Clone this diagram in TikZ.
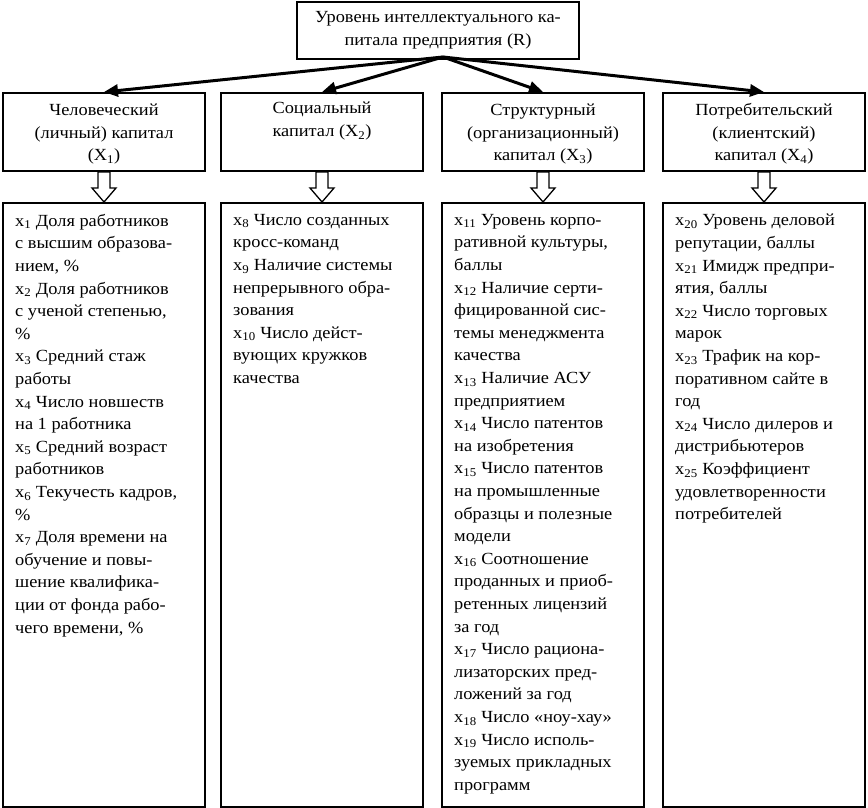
\documentclass[tikz,border=0pt]{standalone}
\usepackage{fontspec}
\setmainfont[FakeStretch=1.08]{Liberation Serif}
\usetikzlibrary{arrows.meta,positioning}

\newcommand{\ix}[1]{x\textsubscript{#1}}

\begin{document}
\begin{tikzpicture}[
  x=1pt, y=-1pt,
  font=\fontsize{17}{22.6}\selectfont,
  node distance=30pt,
  box/.style={draw, line width=2pt, align=center, inner xsep=2pt, inner ysep=5pt},
  cat/.style={box, minimum width=202pt, minimum height=78pt, anchor=north},
  lst/.style={draw, line width=2pt, minimum width=202pt, minimum height=604pt, anchor=north},
  txt/.style={align=left, anchor=north west, inner sep=0pt},
  arr/.style={line width=3pt, -{Triangle[length=14pt, width=12pt]}},
  harr/.style={draw, line width=1.3pt, fill=white, line join=miter}
]
\useasboundingbox (0,0) rectangle (868,808);

\node[box, minimum width=282pt, minimum height=57pt, anchor=north] (R) at (438,1)
  {Уровень интеллектуального ка-\\питала предприятия (R)};
\coordinate (src) at (443,57);

% capital groups
\node[cat] (c1) at (104,92) {\strut Человеческий\\(личный) капитал\\(X\textsubscript{1})};
\node[cat] (c2) at (322,92) {\strut Социальный\\капитал (X\textsubscript{2})\\\strut};
\node[cat] (c3) at (543,92) {\strut Структурный\\(организационный)\\капитал (X\textsubscript{3})};
\node[cat] (c4) at (764,92) {\strut Потребительский\\(клиентский)\\капитал (X\textsubscript{4})};

\foreach \i in {1,...,4}
  \draw[arr] (src) -- (c\i.north);

% indicator lists
\node[lst, below=30pt of c1.south] (l1) {};
\node[lst, below=30pt of c2.south] (l2) {};
\node[lst, below=30pt of c3.south] (l3) {};
\node[lst, below=30pt of c4.south] (l4) {};

\foreach \i in {1,...,4}
  \draw[harr] (c\i.south) ++(-6,0) -- ++(0,16) -- ++(-6,0) -- (l\i.north)
    -- ++(12,-14) -- ++(-6,0) -- ++(0,-16) -- cycle;

\node[txt] (t1) at ([shift={(13,12)}]l1.north west) {%
\ix{1} Доля работников\\
с высшим образова-\\
нием, \%\\
\ix{2} Доля работников\\
с ученой степенью,\\
\%\\
\ix{3} Средний стаж\\
работы\\
\ix{4} Число новшеств\\
на 1 работника\\
\ix{5} Средний возраст\\
работников\\
\ix{6} Текучесть кадров,\\
\%\\
\ix{7} Доля времени на\\
обучение и повы-\\
шение квалифика-\\
ции от фонда рабо-\\
чего времени, \%};

\node[txt] (t2) at ([shift={(13,12)}]l2.north west) {%
\ix{8} Число созданных\\
кросс-команд\\
\ix{9} Наличие системы\\
непрерывного обра-\\
зования\\
\ix{10} Число дейст-\\
вующих кружков\\
качества};

\node[txt] (t3) at ([shift={(13,12)}]l3.north west) {%
\ix{11} Уровень корпо-\\
ративной культуры,\\
баллы\\
\ix{12} Наличие серти-\\
фицированной сис-\\
темы менеджмента\\
качества\\
\ix{13} Наличие АСУ\\
предприятием\\
\ix{14} Число патентов\\
на изобретения\\
\ix{15} Число патентов\\
на промышленные\\
образцы и полезные\\
модели\\
\ix{16} Соотношение\\
проданных и приоб-\\
ретенных лицензий\\
за год\\
\ix{17} Число рациона-\\
лизаторских пред-\\
ложений за год\\
\ix{18} Число «ноу-хау»\\
\ix{19} Число исполь-\\
зуемых прикладных\\
программ};

\node[txt] (t4) at ([shift={(13,12)}]l4.north west) {%
\ix{20} Уровень деловой\\
репутации, баллы\\
\ix{21} Имидж предпри-\\
ятия, баллы\\
\ix{22} Число торговых\\
марок\\
\ix{23} Трафик на кор-\\
поративном сайте в\\
год\\
\ix{24} Число дилеров и\\
дистрибьютеров\\
\ix{25} Коэффициент\\
удовлетворенности\\
потребителей};
\end{tikzpicture}
\end{document}
